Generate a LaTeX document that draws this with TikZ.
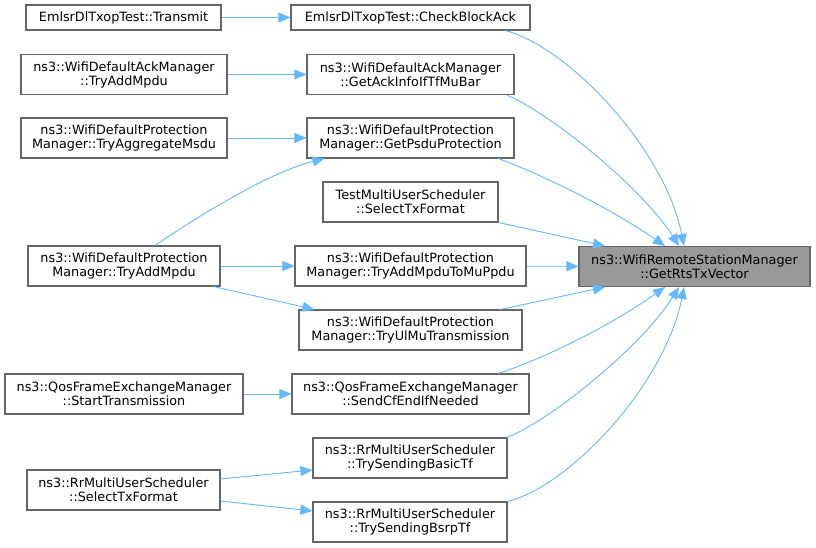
\documentclass[tikz,border=0pt]{standalone}
\usepackage{fontspec}
\setmainfont{DejaVu Sans}
\usetikzlibrary{arrows.meta}

\definecolor{edgeblue}{HTML}{63B8FF}
\definecolor{boxgray}{HTML}{666666}
\definecolor{targetgray}{HTML}{999999}

\begin{document}
\begin{tikzpicture}[x=1pt, y=-1pt,
        fn/.style={draw=boxgray, line width=1.1pt, fill=white, inner sep=0pt, align=center, minimum height=40pt, font=\fontsize{12.8}{14}\selectfont},
        call/.style={draw=edgeblue, line width=0.9pt, -{Triangle[length=12pt, width=10pt]}}]
        \useasboundingbox (0,0) rectangle (816,548);
        \node[fn, minimum width=231pt, fill=targetgray] (target) at (694.5,266.5) {ns3::WifiRemoteStationManager\\::GetRtsTxVector};
        \node[fn, minimum width=195pt, minimum height=25pt] (transmit) at (123.5,17.5) {EmlsrDlTxopTest::Transmit};
        \node[fn, minimum width=239pt, minimum height=25pt] (check) at (410.5,17.5) {EmlsrDlTxopTest::CheckBlockAck};
        \node[fn, minimum width=206pt] (ackTry) at (124,74.5) {ns3::WifiDefaultAckManager\\::TryAddMpdu};
        \node[fn, minimum width=207pt] (ackInfo) at (410.5,74.5) {ns3::WifiDefaultAckManager\\::GetAckInfoIfTfMuBar};
        \node[fn, minimum width=206pt] (aggr) at (124,138) {ns3::WifiDefaultProtection\\Manager::TryAggregateMsdu};
        \node[fn, minimum width=207pt] (psdu) at (410.5,138) {ns3::WifiDefaultProtection\\Manager::GetPsduProtection};
        \node[fn, minimum width=175pt] (testSel) at (410.5,202) {TestMultiUserScheduler\\::SelectTxFormat};
        \node[fn, minimum width=192pt] (protTry) at (124,266) {ns3::WifiDefaultProtection\\Manager::TryAddMpdu};
        \node[fn, minimum width=231pt] (muPpdu) at (410.5,266) {ns3::WifiDefaultProtection\\Manager::TryAddMpduToMuPpdu};
        \node[fn, minimum width=223pt] (ulMu) at (410.5,330) {ns3::WifiDefaultProtection\\Manager::TryUlMuTransmission};
        \node[fn, minimum width=238pt] (startTx) at (124,394) {ns3::QosFrameExchangeManager\\::StartTransmission};
        \node[fn, minimum width=237pt] (cfEnd) at (410.5,394) {ns3::QosFrameExchangeManager\\::SendCfEndIfNeeded};
        \node[fn, minimum width=194pt] (basicTf) at (410,458) {ns3::RrMultiUserScheduler\\::TrySendingBasicTf};
        \node[fn, minimum width=193pt] (rrSel) at (123.5,490) {ns3::RrMultiUserScheduler\\::SelectTxFormat};
        \node[fn, minimum width=194pt] (bsrpTf) at (410,522) {ns3::RrMultiUserScheduler\\::TrySendingBsrpTf};
        \draw[call] (transmit) -- (check);
        \draw[call] (ackTry) -- (ackInfo);
        \draw[call] (aggr) -- (psdu);
        \draw[call] (protTry) -- (muPpdu);
        \draw[call] (startTx) -- (cfEnd);
        \draw[call] ([xshift=31pt]protTry.north) .. controls (200,215) and (270,172) .. ([xshift=18pt]psdu.south west);
        \draw[call] ([xshift=-7pt]protTry.south east) -- ([xshift=16pt]ulMu.north west);
        \draw[call] ([yshift=11pt]rrSel.east) -- ([yshift=-12pt]basicTf.west);
        \draw[call] ([yshift=-11pt]rrSel.east) -- ([yshift=11pt]bsrpTf.west);
        \draw[call] ([xshift=-25pt]check.south east) .. controls (570,48) and (665,150) .. ([xshift=-10.5pt]target.north);
        \draw[call] ([xshift=-8pt]ackInfo.south east) .. controls (545,110) and (640,185) .. ([xshift=-15.5pt]target.north);
        \draw[call] ([xshift=-16pt]psdu.south east) .. controls (545,176) and (610,208) .. ([xshift=-29.5pt]target.north);
        \draw[call] (testSel.south east) -- ([xshift=-89.5pt]target.north);
        \draw[call] (muPpdu) -- (target);
        \draw[call] ([xshift=-22pt]ulMu.north east) -- ([xshift=-89.5pt]target.south);
        \draw[call] ([xshift=-31pt]cfEnd.north east) .. controls (545,358) and (610,326) .. ([xshift=-29.5pt]target.south);
        \draw[call] ([xshift=-1pt]basicTf.north east) .. controls (545,424) and (640,349) .. ([xshift=-15.5pt]target.south);
        \draw[call] (bsrpTf.north east) .. controls (570,486) and (665,384) .. ([xshift=-10.5pt]target.south);
\end{tikzpicture}
\end{document}
